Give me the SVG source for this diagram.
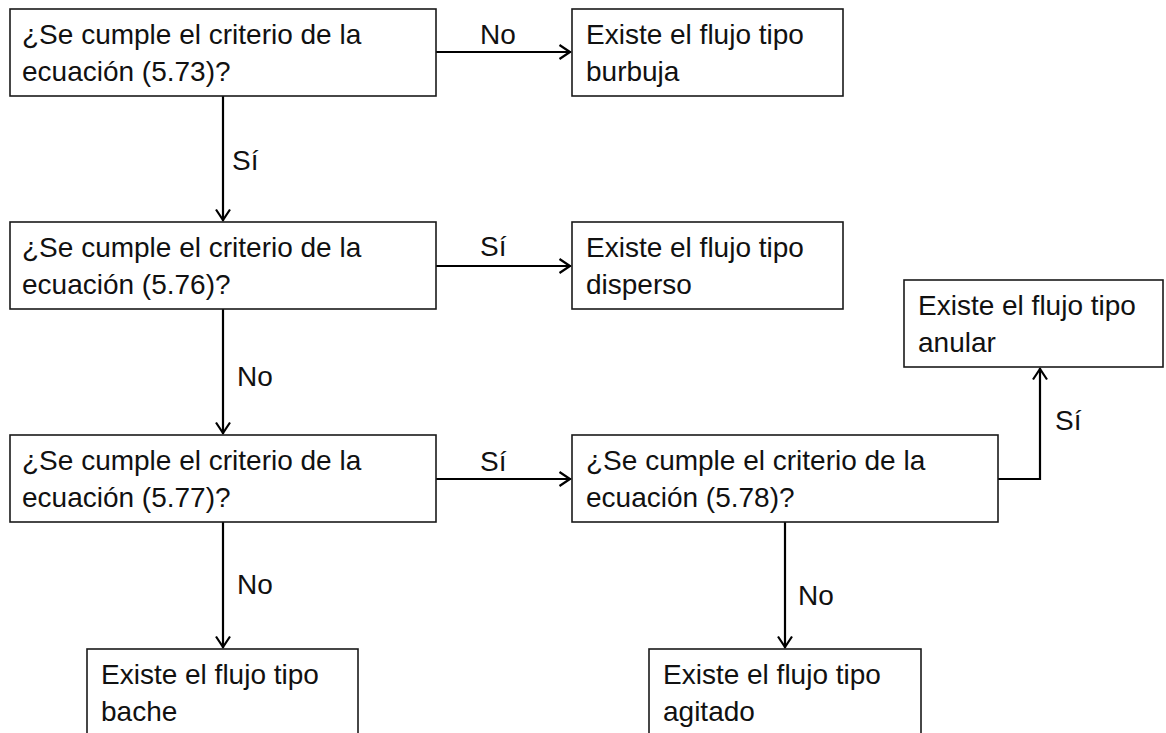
<svg xmlns="http://www.w3.org/2000/svg" width="1166" height="733" viewBox="0 0 1166 733">
<style>
.box{fill:#fff;stroke:#1a1a1a;stroke-width:1.6}
.t{font-family:"Liberation Sans",Arial,sans-serif;font-size:28px;fill:#111}
.c{fill:none;stroke:#000;stroke-width:2.2}
</style>
<defs>
<marker id="ah" viewBox="0 0 14 16" refX="13" refY="8" markerWidth="14" markerHeight="16" orient="auto" markerUnits="userSpaceOnUse">
<path d="M1.5,1 L12,8 L1.5,15" fill="none" stroke="#000" stroke-width="2.2"/>
</marker>
</defs>
<rect width="1166" height="733" fill="#fff"/>
<g id="connectors">
<path class="c" d="M436,52 H571" marker-end="url(#ah)"/>
<path class="c" d="M223,96 V221" marker-end="url(#ah)"/>
<path class="c" d="M436,266 H571" marker-end="url(#ah)"/>
<path class="c" d="M223,309 V434" marker-end="url(#ah)"/>
<path class="c" d="M436,479 H571" marker-end="url(#ah)"/>
<path class="c" d="M998,479 H1040 V368" marker-end="url(#ah)"/>
<path class="c" d="M223,522 V648" marker-end="url(#ah)"/>
<path class="c" d="M785,522 V648" marker-end="url(#ah)"/>
<text class="t" x="480" y="44">No</text>
<text class="t" x="232" y="170">Sí</text>
<text class="t" x="480" y="256">Sí</text>
<text class="t" x="237" y="386">No</text>
<text class="t" x="480" y="471">Sí</text>
<text class="t" x="1055" y="430">Sí</text>
<text class="t" x="237" y="594">No</text>
<text class="t" x="798" y="605">No</text>
</g>
<g id="q573">
<rect class="box" x="10" y="9" width="426" height="87"/>
<text class="t" x="22" y="44">¿Se cumple el criterio de la</text>
<text class="t" x="22" y="81">ecuación (5.73)?</text>
</g>
<g id="burbuja">
<rect class="box" x="572" y="9" width="271" height="87"/>
<text class="t" x="586" y="44">Existe el flujo tipo</text>
<text class="t" x="586" y="81">burbuja</text>
</g>
<g id="q576">
<rect class="box" x="10" y="222" width="426" height="87"/>
<text class="t" x="22" y="257">¿Se cumple el criterio de la</text>
<text class="t" x="22" y="294">ecuación (5.76)?</text>
</g>
<g id="disperso">
<rect class="box" x="572" y="222" width="271" height="87"/>
<text class="t" x="586" y="257">Existe el flujo tipo</text>
<text class="t" x="586" y="294">disperso</text>
</g>
<g id="anular">
<rect class="box" x="904" y="280" width="259" height="87"/>
<text class="t" x="918" y="315">Existe el flujo tipo</text>
<text class="t" x="918" y="352">anular</text>
</g>
<g id="q577">
<rect class="box" x="10" y="435" width="426" height="87"/>
<text class="t" x="22" y="470">¿Se cumple el criterio de la</text>
<text class="t" x="22" y="507">ecuación (5.77)?</text>
</g>
<g id="q578">
<rect class="box" x="572" y="435" width="426" height="87"/>
<text class="t" x="586" y="470">¿Se cumple el criterio de la</text>
<text class="t" x="586" y="507">ecuación (5.78)?</text>
</g>
<g id="bache">
<rect class="box" x="87" y="649" width="271" height="100"/>
<text class="t" x="101" y="684">Existe el flujo tipo</text>
<text class="t" x="101" y="721">bache</text>
</g>
<g id="agitado">
<rect class="box" x="649" y="649" width="272" height="100"/>
<text class="t" x="663" y="684">Existe el flujo tipo</text>
<text class="t" x="663" y="721">agitado</text>
</g>
</svg>
